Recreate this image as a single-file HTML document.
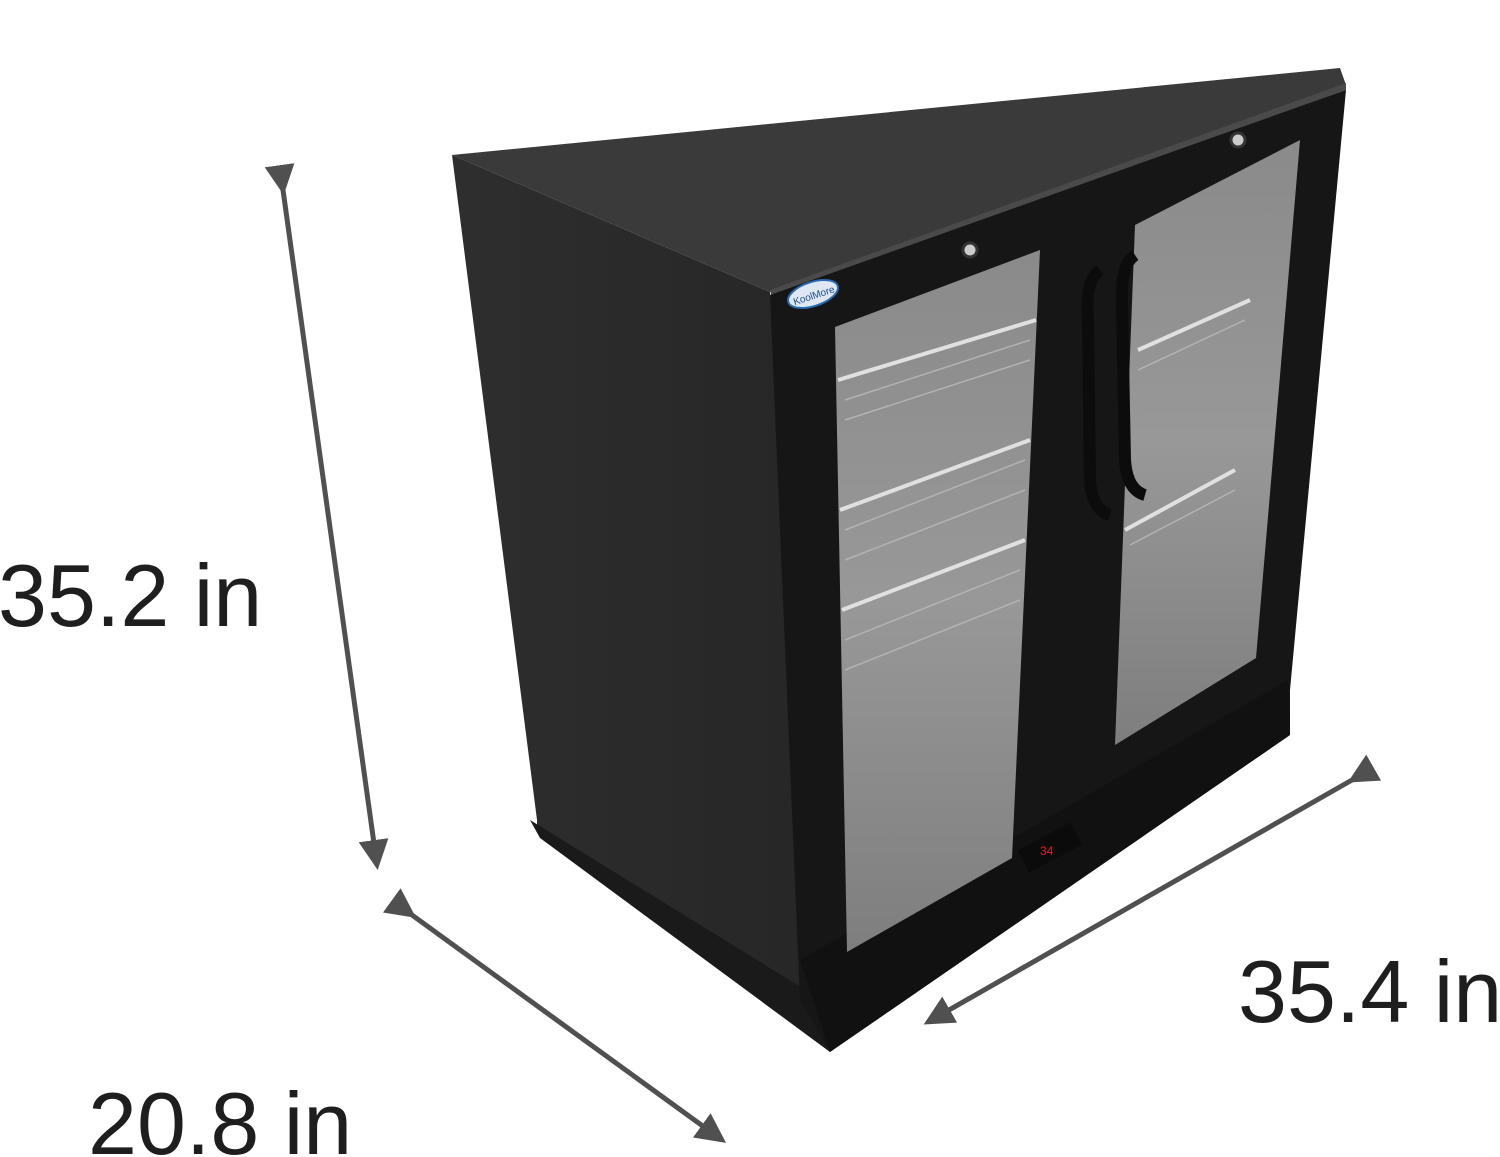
<!DOCTYPE html>
<html><head><meta charset="utf-8"><style>
html,body{margin:0;padding:0;background:#fff;}
svg{display:block;}
text{font-family:"Liberation Sans",sans-serif;fill:#1e1e1e;}
</style></head><body>
<svg width="1500" height="1157" viewBox="0 0 1500 1157" xmlns="http://www.w3.org/2000/svg">
<defs>
<marker id="ah" markerWidth="6" markerHeight="6" refX="5" refY="3" orient="auto" markerUnits="strokeWidth">
<path d="M0,0 L6,3 L0,6 z" fill="#505050"/></marker>
<linearGradient id="glass" x1="0" y1="0" x2="0" y2="1">
<stop offset="0" stop-color="#8a8a8a"/><stop offset="0.5" stop-color="#989898"/><stop offset="1" stop-color="#7e7e7e"/></linearGradient>
<linearGradient id="side" x1="0" y1="0" x2="1" y2="0">
<stop offset="0" stop-color="#2e2e2e"/><stop offset="1" stop-color="#262626"/></linearGradient>
</defs>
<!-- side face -->
<polygon points="452,155 770,292 830,1050 537,830 537,820" fill="url(#side)"/>
<polygon points="530,820 830,1005 830,1052 540,838" fill="#1a1a1a"/>
<!-- top face -->
<polygon points="452,155 1340,68 1346,85 770,292" fill="#3a3a3a"/>
<polygon points="770,290 1346,83 1346,90 772,298" fill="#4a4a4a"/>
<!-- front face -->
<polygon points="770,295 1346,90 1290,690 1290,735 830,1052 800,1000" fill="#161616"/>
<!-- base/kick -->
<polygon points="800,960 1288,680 1290,735 830,1052" fill="#111"/>
<!-- left door glass -->
<polygon points="835,327 1040,250 1012,858 847,952" fill="url(#glass)"/>
<!-- right door glass -->
<polygon points="1135,225 1300,140 1256,658 1115,745" fill="url(#glass)"/>
<!-- shelves -->
<g stroke="#e0e0e0" stroke-width="4" fill="none">
<line x1="838" y1="380" x2="1036" y2="320"/>
<line x1="840" y1="510" x2="1030" y2="440"/>
<line x1="842" y1="610" x2="1025" y2="540"/>
<line x1="1138" y1="350" x2="1250" y2="300"/>
<line x1="1125" y1="530" x2="1235" y2="470"/>
</g>
<g stroke="#bbb" stroke-width="1.5" fill="none" opacity="0.8">
<line x1="845" y1="400" x2="1030" y2="340"/><line x1="845" y1="420" x2="1030" y2="360"/>
<line x1="845" y1="530" x2="1025" y2="460"/><line x1="845" y1="560" x2="1025" y2="490"/>
<line x1="845" y1="640" x2="1020" y2="570"/><line x1="845" y1="670" x2="1020" y2="600"/>
<line x1="1138" y1="370" x2="1245" y2="320"/><line x1="1130" y1="545" x2="1235" y2="490"/>
</g>
<!-- handles -->
<path d="M1100,270 Q1085,280 1088,320 L1090,480 Q1092,510 1110,515" stroke="#0c0c0c" stroke-width="12" fill="none"/>
<path d="M1135,255 Q1120,265 1122,305 L1125,460 Q1127,490 1145,495" stroke="#0c0c0c" stroke-width="12" fill="none"/>
<!-- locks -->
<circle cx="970" cy="250" r="7" fill="#ccc" stroke="#333" stroke-width="3"/>
<circle cx="1238" cy="140" r="7" fill="#ccc" stroke="#333" stroke-width="3"/>
<!-- logo -->
<ellipse cx="813" cy="294" rx="26" ry="12" fill="#dfe8f2" stroke="#2a6ab0" stroke-width="2" transform="rotate(-18 813 294)"/>
<text x="792" y="299" font-size="10" style="fill:#1e4a8a" transform="rotate(-18 813 294)">KoolMore</text>
<!-- display -->
<rect x="1020" y="835" width="60" height="25" fill="#0b0b0b" transform="rotate(-28 1050 848)"/>
<text x="1040" y="855" font-size="12" style="fill:#d22">34</text>
<!-- arrows -->
<g stroke="#505050" stroke-width="5" fill="none">
<line x1="283" y1="190" x2="377" y2="865" marker-end="url(#ah)" marker-start="url(#ah)"/>
<line x1="412" y1="915" x2="722" y2="1140" marker-end="url(#ah)" marker-start="url(#ah)"/>
<line x1="1352" y1="780" x2="928" y2="1022" marker-end="url(#ah)" marker-start="url(#ah)"/>
</g>
<text x="-2" y="626" font-size="88">35.2 in</text>
<text x="1238" y="1022" font-size="88">35.4 in</text>
<text x="88" y="1154" font-size="88">20.8 in</text>
</svg>
</body></html>
